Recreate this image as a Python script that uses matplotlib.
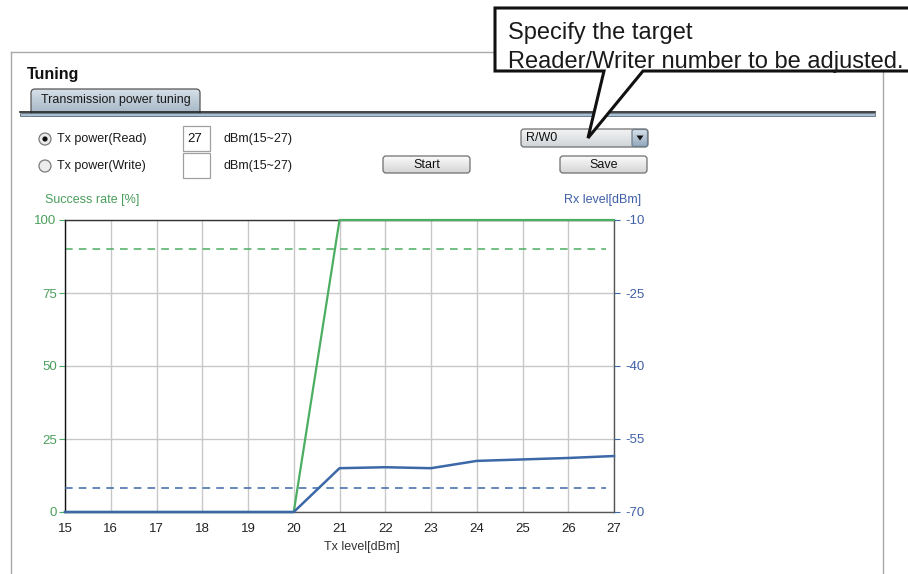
#!/usr/bin/env python3
"""Transmission power tuning screen: success rate / Rx level vs Tx level."""

import matplotlib

matplotlib.use("Agg")

import matplotlib.pyplot as plt
import numpy as np
from matplotlib.patches import Circle, FancyBboxPatch, PathPatch, Polygon, Rectangle
from matplotlib.path import Path

plt.rcParams["font.family"] = ["Liberation Sans", "DejaVu Sans"]
plt.rcParams["axes.unicode_minus"] = False

# --- data -------------------------------------------------------------------
tx_level = [15, 16, 17, 18, 19, 20, 21, 22, 23, 24, 25, 26, 27]
success_rate = [0, 0, 0, 0, 0, 0, 100, 100, 100, 100, 100, 100, 100]
rx_level = [-70, -70, -70, -70, -70, -70, -61.0, -60.8, -61.0, -59.5, -59.2, -58.9, -58.5]
success_threshold = 90
rx_threshold = -65
left_ticks = [0, 25, 50, 75, 100]
right_ticks = [-70, -55, -40, -25, -10]

GREEN = "#4cae62"
GREEN_TXT = "#4a9e5c"
BLUE = "#3c68a8"
BLUE_TXT = "#3f5fa6"
W, H = 908, 574


def gradient_box(ax, x0, y0, x1, y1, top, bottom, edge, rad=3, lw=0.9):
    box = FancyBboxPatch((x0, y0), x1 - x0, y1 - y0,
                         boxstyle=f"round,pad=0,rounding_size={rad}",
                         fc="none", ec=edge, lw=lw, zorder=3)
    ax.add_patch(box)
    grad = np.linspace(0, 1, 64).reshape(-1, 1)
    c0 = np.array(matplotlib.colors.to_rgb(top))
    c1 = np.array(matplotlib.colors.to_rgb(bottom))
    img = c0 + (c1 - c0) * grad[:, :, None]
    im = ax.imshow(img, extent=(x0, x1, y1, y0), aspect="auto", zorder=2,
                   interpolation="bilinear")
    im.set_clip_path(box)
    return box


fig = plt.figure(figsize=(W / 100, H / 100), dpi=100)

# --- user-interface layer in pixel coordinates ---------------------------------
ui = fig.add_axes([0, 0, 1, 1])
ui.set_xlim(0, W)
ui.set_ylim(H, 0)
ui.axis("off")

panel = "#a8a8a8"
ui.plot([11, 11], [52, H], color=panel, lw=1)
ui.plot([11, 495], [52, 52], color=panel, lw=1)
ui.plot([883, 883], [71, H], color=panel, lw=1)

ui.text(27, 74, "Tuning", fontsize=11.5, fontweight="bold", va="center", color="#111")

# tab and separator
gradient_box(ui, 31, 89, 200, 116, "#d6e0e8", "#9fb2c2", "#555", rad=4)
ui.text(115.5, 100.5, "Transmission power tuning", fontsize=9, ha="center",
        va="center", color="#1a1a1a", zorder=4)
ui.plot([20, 875], [111.5, 111.5], color="#222", lw=1.2, zorder=4)
ui.add_patch(Rectangle((20, 112.5), 855, 3.5, fc="#aac0d2", ec="#5c6f80", lw=0.6, zorder=4))

# radio buttons
for cy, label, on in [(139, "Tx power(Read)", True), (166, "Tx power(Write)", False)]:
    ui.add_patch(Circle((45, cy), 6, fc="#ececec", ec="#7a7a7a", lw=0.9, zorder=3))
    if on:
        ui.add_patch(Circle((45, cy), 2.6, fc="#111", ec="none", zorder=4))
    ui.text(57, cy, label, fontsize=9, va="center", color="#1a1a1a")

# text boxes
for y0, val in [(126, "27"), (153, "")]:
    ui.add_patch(Rectangle((183, y0), 27, 25, fc="white", ec="#a0a0a0", lw=0.9))
    ui.text(187, y0 + 13, val, fontsize=9.5, va="center", color="#111")
    ui.text(224, y0 + 13, "dBm(15~27)", fontsize=9, va="center", color="#1a1a1a")

# buttons
for x0, label in [(383, "Start"), (560, "Save")]:
    gradient_box(ui, x0, 156, x0 + 87, 173, "#fbfbfb", "#d4d4d4", "#6f6f6f", rad=3)
    ui.text(x0 + 43.5, 164.5, label, fontsize=9, ha="center", va="center",
            color="#111", zorder=4)

# combobox
gradient_box(ui, 521, 129, 648, 147, "#f4f4f4", "#cfd4d8", "#6f6f6f", rad=3)
gradient_box(ui, 632, 129.5, 647.5, 146.5, "#d9e3ec", "#93a9bd", "#6f7f8f", rad=2)
ui.add_patch(Polygon([[636.5, 135.5], [643.5, 135.5], [640, 140.5]], closed=True,
                     fc="#111", ec="none", zorder=5))
ui.text(526, 138, "R/W0", fontsize=9, va="center", color="#111", zorder=4)

# callout
verts = [(495, 8), (915, 8), (915, 71), (643, 71), (588, 138), (604, 71), (495, 71), (495, 8)]
codes = [Path.MOVETO] + [Path.LINETO] * 6 + [Path.CLOSEPOLY]
ui.add_patch(PathPatch(Path(verts, codes), fc="white", ec="#111", lw=2.2,
                       joinstyle="miter", zorder=6))
ui.text(508, 33, "Specify the target", fontsize=17, va="center", color="#1a1a1a", zorder=7)
ui.text(508, 62, "Reader/Writer number to be adjusted.", fontsize=17, va="center",
        color="#1a1a1a", zorder=7)

# axis titles
ui.text(45, 200, "Success rate [%]", fontsize=9, va="center", color=GREEN_TXT)
ui.text(641, 200, "Rx level[dBm]", fontsize=9, ha="right", va="center", color=BLUE_TXT)
ui.text(362, 547, "Tx level[dBm]", fontsize=9, ha="center", va="center", color="#333")

# --- chart -----------------------------------------------------------------------
ax = fig.add_axes([65 / W, 1 - 512 / H, (614 - 65) / W, (512 - 220) / H])
ax.set_xlim(15, 27)
ax.set_ylim(0, 100)
ax.set_xticks(tx_level)
ax.set_yticks(left_ticks)
ax.grid(True, color="#c8c8c8", lw=1)
ax.set_axisbelow(True)
ax.tick_params(axis="x", length=0, pad=8, labelsize=9.5, labelcolor="#222")
ax.tick_params(axis="y", length=4, width=0.8, color=GREEN, labelsize=9.5,
               labelcolor=GREEN_TXT, pad=2)
ax.spines["left"].set_color("#111")
ax.spines["top"].set_color("#333")
ax.spines["bottom"].set_color("#555")
ax.spines["right"].set_color("#555")
for s in ax.spines.values():
    s.set_linewidth(1)

ax2 = ax.twinx()
ax2.set_ylim(-70, -10)
ax2.set_yticks(right_ticks)
ax2.tick_params(axis="y", length=4, width=0.8, color=BLUE, labelsize=9.5,
                labelcolor=BLUE_TXT, pad=4)
for s in ax2.spines.values():
    s.set_visible(False)

ax2.axhline(rx_threshold, color=BLUE, lw=1.1, ls=(0, (5, 4)), xmax=0.985)
ax.axhline(success_threshold, color=GREEN, lw=1.1, ls=(0, (5, 4)), xmax=0.985)
ax2.plot(tx_level, rx_level, color=BLUE, lw=1.8, clip_on=False, zorder=3)
ax2.plot(tx_level, np.array(success_rate) * 0.6 - 70, color=GREEN, lw=1.6,
         clip_on=False, zorder=2)

fig.savefig("out.png", dpi=100)
